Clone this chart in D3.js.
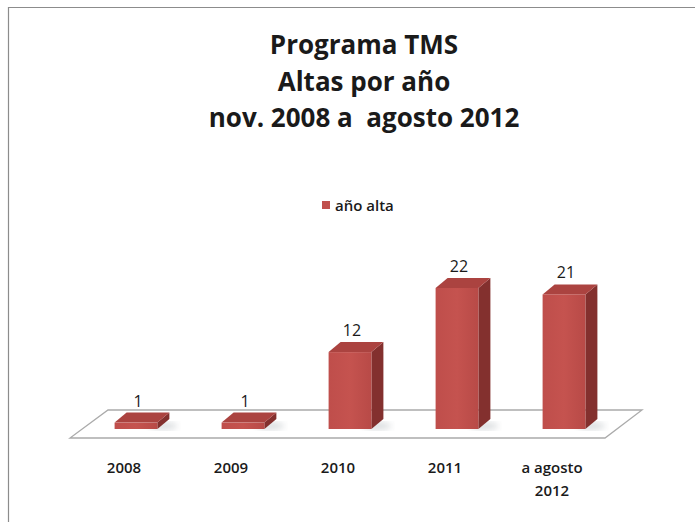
<!DOCTYPE html>
<html>
<head>
<meta charset="utf-8">
<script src="https://cdn.jsdelivr.net/npm/d3@7"></script>
<style>
  html, body { margin: 0; padding: 0; background: #fff; }
  svg { display: block; }
  text { font-family: "Open Sans", "Lato", "Noto Sans", sans-serif; fill: #1a1a1a; }
</style>
</head>
<body>
<script>
// Altas del Programa TMS por año
const categories = ["2008", "2009", "2010", "2011", "a agosto\n2012"];
const values = [1, 1, 12, 22, 21];
const seriesName = "año alta";
const titleLines = ["Programa TMS", "Altas por año", "nov. 2008 a  agosto 2012"];

const W = 695, H = 522;
const svg = d3.select("body").append("svg").attr("width", W).attr("height", H);

// frame
svg.append("path")
  .attr("d", `M8.5,${H} L8.5,7.5 L${W},7.5`)
  .attr("fill", "none").attr("stroke", "#8c8c8c").attr("stroke-width", 1.2);

// title
const title = svg.append("text").attr("text-anchor", "middle")
  .style("font-weight", "bold").style("font-size", "26px");
titleLines.forEach((t, i) => {
  title.append("tspan").attr("x", 364).attr("y", 54 + i * 36.5).attr("xml:space", "preserve").text(t);
});

// 3D geometry
const baseY = 429;            // bottom of front faces
const depthX = 12, depthY = -10;
const x = d3.scaleBand().domain(categories).range([82.5, 617.5]).paddingInner(0.6).paddingOuter(0.3);
const y = d3.scaleLinear().domain([0, 22]).range([baseY, 288]);

// floor
const floor = [[108, 410], [642, 410], [605, 438], [70, 438]];
svg.append("path")
  .attr("d", "M" + floor.map(p => p.join(",")).join("L") + "Z")
  .attr("fill", "#fff").attr("stroke", "#ababab").attr("stroke-width", 1.3);

const defs = svg.append("defs");
const gFront = defs.append("linearGradient").attr("id", "front").attr("x1", 0).attr("x2", 1);
gFront.append("stop").attr("offset", "0").attr("stop-color", "#bf4e4b");
gFront.append("stop").attr("offset", "0.5").attr("stop-color", "#c5534f");
gFront.append("stop").attr("offset", "1").attr("stop-color", "#b84a47");
defs.append("filter").attr("id", "soft").append("feGaussianBlur").attr("stdDeviation", 3);

const bars = svg.append("g");
const data = categories.map((c, i) => ({ c, v: values[i] }));

// shadows on the floor
bars.selectAll(".shadow").data(data).join("ellipse")
  .attr("cx", d => x(d.c) + x.bandwidth() + 6)
  .attr("cy", baseY - 3)
  .attr("rx", 14).attr("ry", 4)
  .attr("fill", "#9aa3a8").attr("opacity", 0.35)
  .attr("filter", "url(#soft)");

const bw = x.bandwidth();
bars.selectAll(".side").data(data).join("path")
  .attr("d", d => {
    const x1 = x(d.c) + bw, yt = y(d.v);
    return `M${x1},${baseY} L${x1},${yt} L${x1 + depthX},${yt + depthY} L${x1 + depthX},${baseY + depthY} Z`;
  })
  .attr("fill", "#83302e");
bars.selectAll(".top").data(data).join("path")
  .attr("d", d => {
    const x0 = x(d.c), yt = y(d.v);
    return `M${x0},${yt} L${x0 + depthX},${yt + depthY} L${x0 + bw + depthX},${yt + depthY} L${x0 + bw},${yt} Z`;
  })
  .attr("fill", "#ab4340");
bars.selectAll(".front").data(data).join("rect")
  .attr("x", d => x(d.c)).attr("y", d => y(d.v))
  .attr("width", bw).attr("height", d => baseY - y(d.v))
  .attr("fill", "url(#front)");

// value labels
svg.append("g").selectAll("text").data(data).join("text")
  .attr("text-anchor", "middle")
  .attr("x", d => x(d.c) + bw / 2 + depthX / 2 - 4)
  .attr("y", d => y(d.v) - 16)
  .style("font-size", "16px")
  .text(d => d.v);

// category labels along the front edge of the floor
const catG = svg.append("g");
data.forEach(d => {
  const t = catG.append("text").attr("text-anchor", "middle")
    .style("font-size", "15px").style("font-weight", "600");
  d.c.split("\n").forEach((line, i) => {
    t.append("tspan").attr("x", x(d.c) + bw / 2 - 12).attr("y", 473 + i * 23).text(line);
  });
});

// legend
const lg = svg.append("g").attr("transform", "translate(322,201)");
lg.append("rect").attr("width", 8).attr("height", 8).attr("fill", "#c0504d");
lg.append("text").attr("x", 13).attr("y", 10).style("font-size", "15px").style("font-weight", "600").text(seriesName);
</script>
</body>
</html>
